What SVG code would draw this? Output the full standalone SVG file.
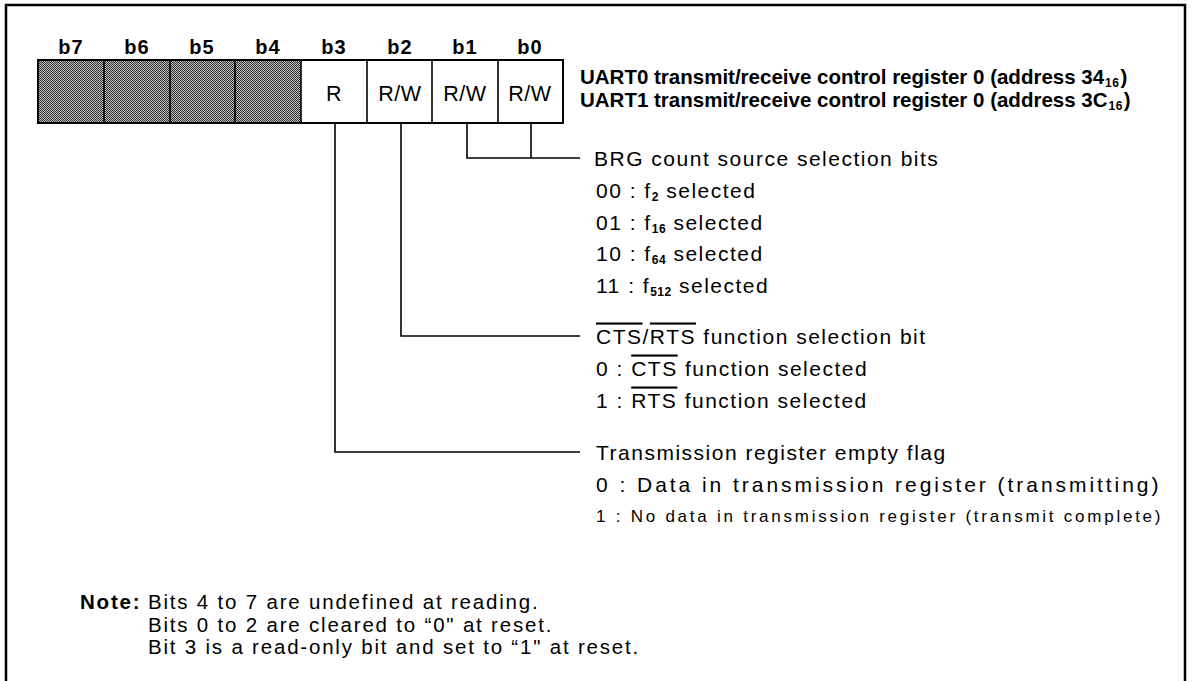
<svg xmlns="http://www.w3.org/2000/svg" width="1192" height="681" viewBox="0 0 1192 681">
<defs>
<pattern id="dith" width="2" height="2" patternUnits="userSpaceOnUse">
<rect width="2" height="2" fill="#c0c0c0"/>
<rect x="0" y="0" width="1" height="1" fill="#303030"/>
<rect x="1" y="1" width="1" height="1" fill="#303030"/>
</pattern>
<style>
.t{font-family:"Liberation Sans",Arial,sans-serif;fill:#000}
.b{font-weight:bold}
.lbl{font-size:20px;font-weight:bold;text-anchor:middle;letter-spacing:1px}
.acc{font-size:21.5px;text-anchor:middle;letter-spacing:0.5px}
.row{font-size:21px;letter-spacing:1.5px}
.sub{font-size:12px;font-weight:bold;letter-spacing:0.5px}
.ttl{font-size:20.5px;font-weight:bold}
.line{fill:none;stroke:#000;stroke-width:1.6}
.ol{text-decoration:overline}
</style>
</defs>
<rect x="0" y="0" width="1192" height="681" fill="#fff"/>
<rect x="6" y="5" width="1179" height="720" fill="none" stroke="#000" stroke-width="2.5"/>

<g id="register">
<rect x="38" y="60" width="263" height="63" fill="url(#dith)"/>
<rect x="38" y="60" width="525" height="63" fill="none" stroke="#000" stroke-width="2"/>
<path class="line" d="M104 60V123M170 60V123M235 60V123M301 60V123M367 60V123M432 60V123M498 60V123"/>
<g class="t lbl">
<text x="71" y="54">b7</text><text x="137" y="54">b6</text><text x="202" y="54">b5</text><text x="268" y="54">b4</text>
<text x="334" y="54">b3</text><text x="400" y="54">b2</text><text x="465" y="54">b1</text><text x="530" y="54">b0</text>
</g>
<g class="t acc">
<text x="334" y="101">R</text><text x="400" y="101">R/W</text><text x="465" y="101">R/W</text><text x="530" y="101">R/W</text>
</g>
</g>

<g id="title" class="t ttl">
<text x="580" y="84">UART0 transmit/receive control register 0 (address 34<tspan class="sub" dx="1" dy="3">16</tspan><tspan dx="1" dy="-3">)</tspan></text>
<text x="580" y="107">UART1 transmit/receive control register 0 (address 3C<tspan class="sub" dx="1" dy="3">16</tspan><tspan dx="1" dy="-3">)</tspan></text>
</g>

<g id="connectors">
<path class="line" d="M531 123V158"/>
<path class="line" d="M467 123V158H580"/>
<path class="line" d="M401 123V336H580"/>
<path class="line" d="M335 123V452H580"/>
</g>

<g id="brg" class="t row">
<text x="594" y="165.5">BRG count source selection bits</text>
<text x="596" y="197.5">00 : f<tspan class="sub" dy="3">2</tspan><tspan dy="-3"> selected</tspan></text>
<text x="596" y="229.5">01 : f<tspan class="sub" dy="3">16</tspan><tspan dy="-3"> selected</tspan></text>
<text x="596" y="261">10 : f<tspan class="sub" dy="3">64</tspan><tspan dy="-3"> selected</tspan></text>
<text x="596" y="292.5">11 : f<tspan class="sub" dy="3">512</tspan><tspan dy="-3"> selected</tspan></text>
</g>

<g id="ctsrts" class="t row">
<text x="596" y="343.5"><tspan class="ol">CTS</tspan>/<tspan class="ol">RTS</tspan> function selection bit</text>
<text x="596" y="375.5">0 : <tspan class="ol">CTS</tspan> function selected</text>
<text x="596" y="407.5">1 : <tspan class="ol">RTS</tspan> function selected</text>
</g>

<g id="txept" class="t row">
<text x="596" y="459.5">Transmission register empty flag</text>
<text x="596" y="492" textLength="564" lengthAdjust="spacing">0 : Data in transmission register (transmitting)</text>
<text x="596" y="522" style="font-size:17px" textLength="566" lengthAdjust="spacing">1 : No data in transmission register (transmit complete)</text>
</g>

<g id="note" class="t" style="font-size:20.5px;letter-spacing:1.8px">
<text x="80" y="609" class="b">Note:</text>
<text x="148" y="609">Bits 4 to 7 are undefined at reading.</text>
<text x="148" y="631.5">Bits 0 to 2 are cleared to “0" at reset.</text>
<text x="148" y="654">Bit 3 is a read-only bit and set to “1" at reset.</text>
</g>
</svg>
